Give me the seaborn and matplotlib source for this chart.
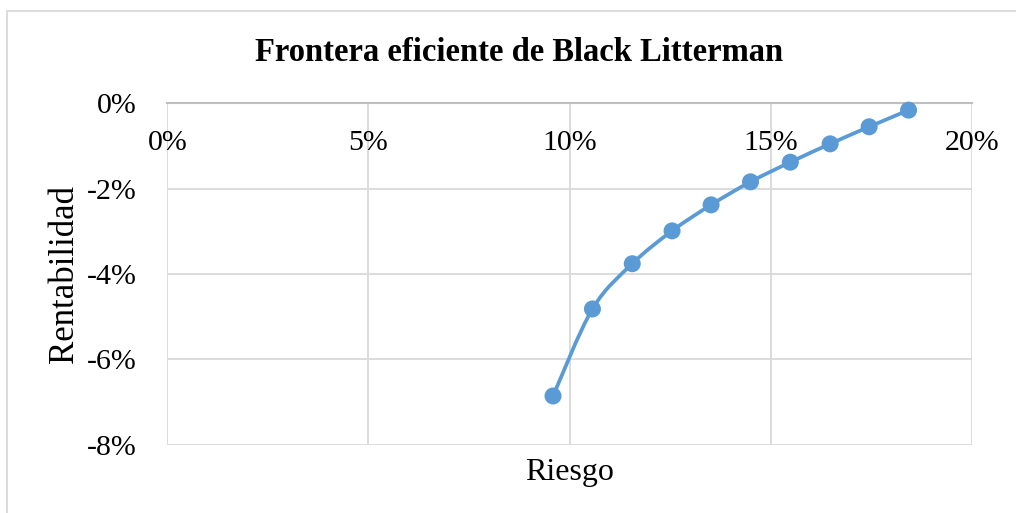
import numpy as np
import pandas as pd
import matplotlib
matplotlib.use("Agg")
import matplotlib.pyplot as plt
import seaborn as sns
from matplotlib.path import Path
from matplotlib.patches import PathPatch
from matplotlib.ticker import PercentFormatter

# Efficient frontier points (risk, return)
riesgo = [0.0959, 0.1057, 0.1156, 0.1255, 0.1352, 0.1450, 0.1549, 0.1648, 0.1745, 0.1843]
rentabilidad = [-0.0686, -0.0482, -0.0376, -0.0299, -0.0238, -0.0184, -0.0138, -0.0095, -0.0055, -0.0016]

x_ticks = [0.0, 0.05, 0.10, 0.15, 0.20]
y_ticks = [0.0, -0.02, -0.04, -0.06, -0.08]

df = pd.DataFrame({"Riesgo": riesgo, "Rentabilidad": rentabilidad})

sns.set_theme(style="white")
plt.rcParams["font.family"] = ["Liberation Serif", "DejaVu Serif"]
plt.rcParams["axes.unicode_minus"] = False

blue = "#5B9BD5"
grid_c = "#D9D9D9"

fig = plt.figure(figsize=(10.16, 5.13), dpi=100)
ax = fig.add_axes([0.1647, 0.1333, 0.7917, 0.6653])

ax.set_xlim(0, 0.20)
ax.set_ylim(-0.08, 0)
ax.set_xticks(x_ticks)
ax.set_yticks(y_ticks)
ax.xaxis.set_major_formatter(PercentFormatter(1.0, decimals=0))
ax.yaxis.set_major_formatter(PercentFormatter(1.0, decimals=0))
ax.grid(True, color=grid_c, linewidth=1.3)
ax.set_axisbelow(True)
for s in ["left", "right", "bottom"]:
    ax.spines[s].set_visible(False)
ax.spines["top"].set_color("#BFBFBF")
ax.spines["top"].set_linewidth(1.5)

# smoothed line like Excel (bezier through the points)
pts = df[["Riesgo", "Rentabilidad"]].to_numpy()
verts = [pts[0]]
codes = [Path.MOVETO]
n = len(pts)
for i in range(n - 1):
    p0 = pts[i - 1] if i > 0 else pts[i]
    p1 = pts[i]
    p2 = pts[i + 1]
    p3 = pts[i + 2] if i + 2 < n else pts[i + 1]
    c1 = p1 + (p2 - p0) / 6
    c2 = p2 - (p3 - p1) / 6
    verts += [c1, c2, p2]
    codes += [Path.CURVE4] * 3
ax.add_patch(PathPatch(Path(verts, codes), facecolor="none", edgecolor=blue, linewidth=2.7, zorder=3))

sns.scatterplot(data=df, x="Riesgo", y="Rentabilidad", ax=ax, color=blue, s=150,
                edgecolor="none", zorder=4, clip_on=False)

ax.tick_params(axis="x", top=True, labeltop=True, bottom=False, labelbottom=False,
               length=0, pad=-19, labelsize=21.5, labelcolor="black")
for lab in ax.get_xticklabels():
    lab.set_va("top")
ax.tick_params(axis="y", length=0, pad=22, labelsize=21.5, labelcolor="black")

ax.set_xlabel("Riesgo", fontsize=23, color="black")
ax.xaxis.label.set_va("baseline")
ax.xaxis.set_label_coords(0.5, -0.1037)
ax.set_ylabel("Rentabilidad", fontsize=25, color="black")
ax.yaxis.label.set_va("baseline")
ax.yaxis.set_label_coords(-0.1176, 0.5)

fig.text(519 / 1016, 1 - 61 / 513, "Frontera eficiente de Black Litterman",
         ha="center", va="baseline", fontsize=23.5, fontweight="bold", color="black")

# chart border (cropped on right and bottom)
fig.add_artist(plt.Line2D([7 / 1016, 1.0], [1 - 11 / 513] * 2, color="#D9D9D9", linewidth=1.3))
fig.add_artist(plt.Line2D([7 / 1016] * 2, [0.0, 1 - 11 / 513], color="#D9D9D9", linewidth=1.3))

fig.savefig("out.png", dpi=100)
